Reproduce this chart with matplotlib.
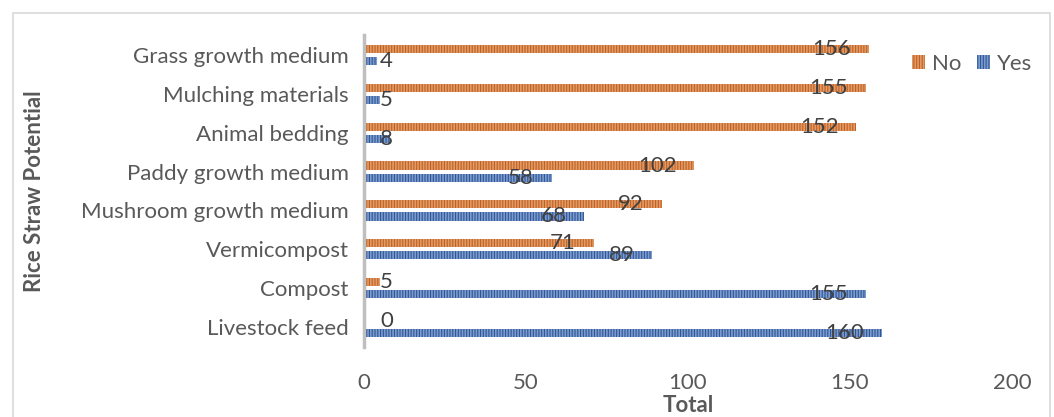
import matplotlib
matplotlib.use("Agg")
import matplotlib.pyplot as plt
from matplotlib.patches import Rectangle
import numpy as np

categories = ["Grass growth medium", "Mulching materials", "Animal bedding",
              "Paddy growth medium", "Mushroom growth medium", "Vermicompost",
              "Compost", "Livestock feed"]
no_vals = [156, 155, 152, 102, 92, 71, 5, 0]
yes_vals = [4, 5, 8, 58, 68, 89, 155, 160]
x_ticks = [0, 50, 100, 150, 200]

plt.rcParams['font.family'] = ['Lato', 'DejaVu Sans']
plt.rcParams['hatch.linewidth'] = 1.2

orange = '#C2611F'
orange_stripe = '#E09A68'
blue = '#2E569A'
blue_stripe = '#7E9CCB'
text_col = '#595959'
fs = 16

fig = plt.figure(figsize=(10.54, 4.17), dpi=100)
ax = fig.add_axes([364 / 1054, 70.5 / 417, 648 / 1054, 311 / 417])

y = np.arange(len(categories))
h = 0.21
off = 0.155
ax.barh(y - off, no_vals, height=h, color=orange, edgecolor=orange_stripe,
        linewidth=0, hatch='||||||', label='No')
ax.barh(y + off, yes_vals, height=h, color=blue, edgecolor=blue_stripe,
        linewidth=0, hatch='||||||', label='Yes')

ax.set_xlim(0, 200)
ax.set_ylim(len(categories) - 0.5, -0.5)
ax.set_yticks(y)
ax.set_yticklabels(categories, fontsize=fs, color=text_col)
ax.set_xticks(x_ticks)
ax.set_xticklabels([str(t) for t in x_ticks], fontsize=fs, color=text_col)
ax.tick_params(axis='y', length=0, pad=11)
ax.tick_params(axis='x', length=0, pad=19)
for s in ['top', 'right', 'bottom']:
    ax.spines[s].set_visible(False)
ax.spines['left'].set_color('#BFBFBF')
ax.spines['left'].set_linewidth(2.5)

ax.set_xlabel('Total', fontsize=fs, fontweight='bold', color=text_col)
ax.xaxis.set_label_coords(0.5, -48 / 311)
ax.set_ylabel('Rice Straw Potential', fontsize=fs, fontweight='bold', color=text_col)
ax.yaxis.set_label_coords(-319 / 648, 0.5)

# data labels: inside end of the bar, pushed out past the axis for short bars
for vals, pos in [(no_vals, y - off), (yes_vals, y + off)]:
    for v, yy in zip(vals, pos):
        digits = len(str(v))
        width_units = digits * 11 / 3.24
        right = v - 18 / 3.24
        if right - width_units < 16 / 3.24:
            ax.text(16 / 3.24, yy, str(v), ha='left', va='center',
                    fontsize=fs, color='#404040')
        else:
            ax.text(right, yy, str(v), ha='right', va='center',
                    fontsize=fs, color='#404040')

leg = ax.legend(loc='center left', bbox_to_anchor=(548 / 648, 282.5 / 311), ncol=2,
                frameon=False, fontsize=fs, handlelength=0.6, handleheight=0.6,
                handletextpad=0.3, columnspacing=0.7, labelcolor=text_col,
                borderpad=0, borderaxespad=0)

fig.patches.append(Rectangle((13 / 1054, -0.01), 1037 / 1054, 1 - 13 / 417 + 0.01,
                             transform=fig.transFigure, fill=False,
                             edgecolor='#D9D9D9', linewidth=1.2))

fig.savefig('out.png', dpi=100)
